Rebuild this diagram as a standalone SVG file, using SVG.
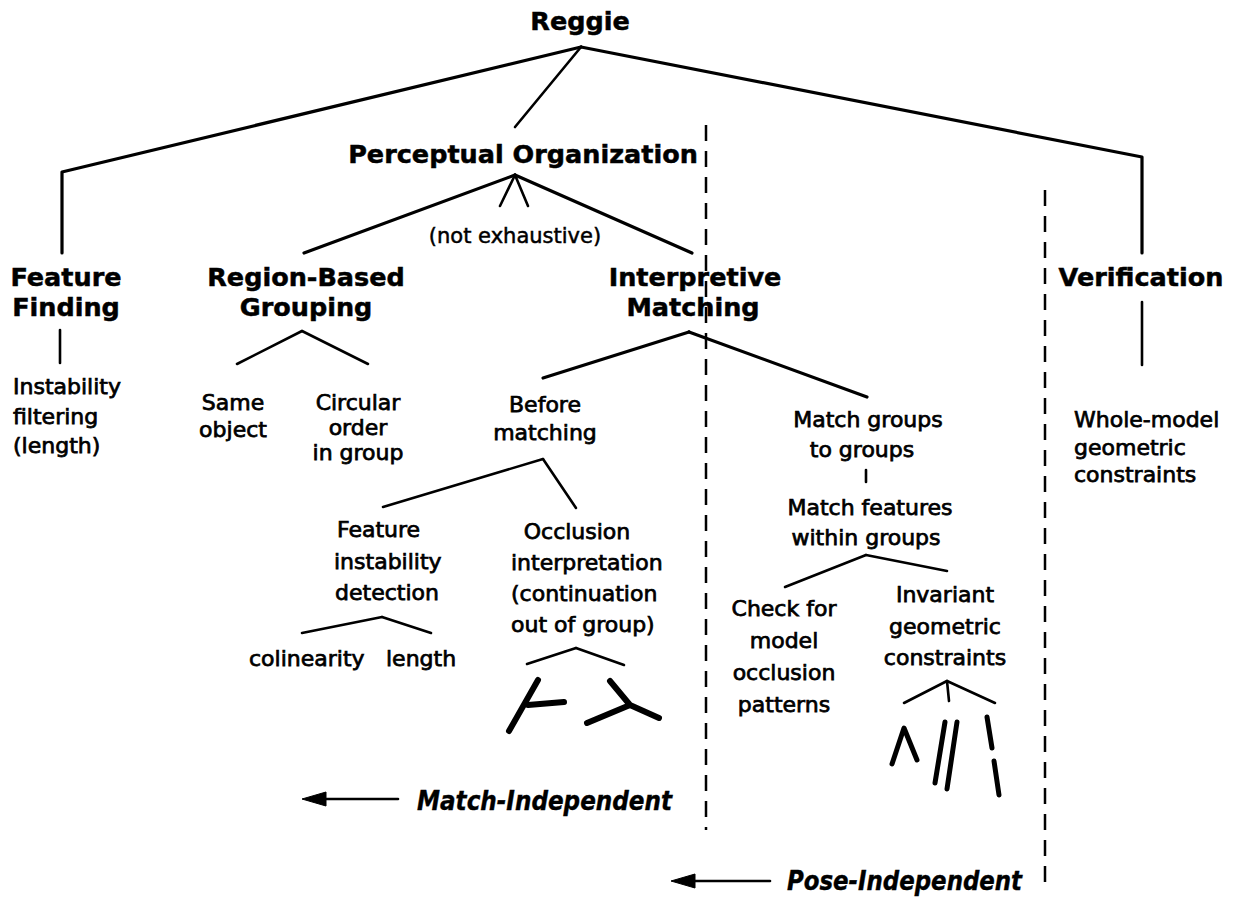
<svg xmlns="http://www.w3.org/2000/svg" width="1235" height="898" viewBox="0 0 1235 898">
<style>
.h{font-family:"DejaVu Sans","Liberation Sans",sans-serif;font-weight:bold;font-size:25.5px;fill:#000;stroke:#000;stroke-width:0.5}
.t{font-family:"DejaVu Sans","Liberation Sans",sans-serif;font-size:22px;fill:#000;stroke:#000;stroke-width:0.75}
.i{font-family:"DejaVu Sans","Liberation Sans",sans-serif;font-weight:bold;font-style:italic;font-size:26px;fill:#000;stroke:#000;stroke-width:0.4}
.c{text-anchor:middle}
.e{fill:none;stroke:#000;stroke-width:3.2;stroke-linecap:round;stroke-linejoin:round}
.s{fill:none;stroke:#000;stroke-width:2.6;stroke-linecap:round;stroke-linejoin:round}
.g{fill:none;stroke:#000;stroke-width:6;stroke-linecap:round;stroke-linejoin:round}
.d{fill:none;stroke:#000;stroke-width:2.5;stroke-dasharray:16 10}
.a{fill:#000;stroke:#000;stroke-width:1;stroke-linejoin:round}
</style>
<rect width="1235" height="898" fill="#fff"/>

<g id="connectors">
<polyline class="e" points="581,47 62,172 62,253"/>
<line class="s" x1="581" y1="47" x2="515" y2="127"/>
<polyline class="e" points="581,47 1142,157 1142,253"/>
<line class="e" x1="515" y1="175" x2="304" y2="253"/>
<line class="e" x1="515" y1="175" x2="692" y2="253"/>
<line class="s" x1="515" y1="175" x2="500" y2="206"/>
<line class="s" x1="515" y1="175" x2="528" y2="206"/>
<line class="s" x1="60" y1="330" x2="60" y2="363"/>
<line class="s" x1="302" y1="331" x2="237" y2="364"/>
<line class="s" x1="302" y1="331" x2="368" y2="364"/>
<line class="e" x1="689" y1="332" x2="543" y2="378"/>
<line class="e" x1="689" y1="332" x2="867" y2="397"/>
<line class="s" x1="543" y1="459" x2="383" y2="507"/>
<line class="s" x1="543" y1="459" x2="576" y2="508"/>
<line class="s" x1="382" y1="617" x2="302" y2="633"/>
<line class="s" x1="382" y1="617" x2="431" y2="633"/>
<line class="s" x1="576" y1="648" x2="527" y2="664"/>
<line class="s" x1="576" y1="648" x2="624" y2="665"/>
<line class="s" x1="866" y1="470" x2="866" y2="482"/>
<line class="s" x1="866" y1="555" x2="785" y2="587"/>
<line class="s" x1="866" y1="555" x2="947" y2="571"/>
<line class="s" x1="947" y1="681" x2="904" y2="703"/>
<line class="s" x1="947" y1="681" x2="995" y2="703"/>
<line class="s" x1="947" y1="681" x2="949" y2="701"/>
<line class="s" x1="1142" y1="302" x2="1142" y2="365"/>
</g>

<g id="boundaries">
<line class="d" x1="706" y1="125" x2="706" y2="830"/>
<line class="d" x1="1045" y1="190" x2="1045" y2="892"/>
</g>

<g id="reggie"><text class="h c" x="580" y="30">Reggie</text></g>
<g id="perceptual-organization">
<text class="h c" x="523" y="163">Perceptual Organization</text>
<text class="t c" x="515" y="243" style="font-size:21px;stroke-width:0.5">(not exhaustive)</text>
</g>
<g id="feature-finding">
<text class="h c" x="66" y="286">Feature</text>
<text class="h c" x="66" y="316">Finding</text>
</g>
<g id="instability-filtering">
<text class="t" x="13" y="394">Instability</text>
<text class="t" x="13" y="424">filtering</text>
<text class="t" x="13" y="453">(length)</text>
</g>
<g id="region-based-grouping">
<text class="h c" x="306" y="286">Region-Based</text>
<text class="h c" x="306" y="316">Grouping</text>
</g>
<g id="same-object">
<text class="t c" x="233" y="410">Same</text>
<text class="t c" x="233" y="437">object</text>
</g>
<g id="circular-order">
<text class="t c" x="358" y="410">Circular</text>
<text class="t c" x="358" y="435">order</text>
<text class="t c" x="358" y="460">in group</text>
</g>
<g id="interpretive-matching">
<text class="h c" x="695" y="286">Interpretive</text>
<text class="h c" x="693" y="316">Matching</text>
</g>
<g id="before-matching">
<text class="t c" x="545" y="412">Before</text>
<text class="t c" x="545" y="440">matching</text>
</g>
<g id="feature-instability-detection">
<text class="t" x="337" y="537">Feature</text>
<text class="t" x="334" y="569">instability</text>
<text class="t" x="335" y="600">detection</text>
</g>
<g id="colinearity"><text class="t" x="249" y="666">colinearity</text></g>
<g id="length"><text class="t" x="386" y="666">length</text></g>
<g id="occlusion-interpretation">
<text class="t c" x="577" y="539">Occlusion</text>
<text class="t" x="511" y="570">interpretation</text>
<text class="t" x="511" y="601">(continuation</text>
<text class="t" x="511" y="632">out of group)</text>
</g>
<g id="occlusion-glyphs">
<path class="g" d="M538,680 L509,731 M528,705 L564,702"/>
<path class="g" d="M610,681 L630,705 L587,723 M630,705 L659,718"/>
</g>
<g id="match-groups">
<text class="t c" x="868" y="427">Match groups</text>
<text class="t c" x="862" y="457">to groups</text>
</g>
<g id="match-features">
<text class="t c" x="870" y="515">Match features</text>
<text class="t c" x="866" y="545">within groups</text>
</g>
<g id="check-occlusion">
<text class="t c" x="784" y="616">Check for</text>
<text class="t c" x="784" y="648">model</text>
<text class="t c" x="784" y="680">occlusion</text>
<text class="t c" x="784" y="712">patterns</text>
</g>
<g id="invariant-constraints">
<text class="t c" x="945" y="602">Invariant</text>
<text class="t c" x="945" y="634">geometric</text>
<text class="t c" x="945" y="665">constraints</text>
</g>
<g id="invariant-glyphs">
<path class="g" style="stroke-width:5" d="M892,764 L904,728 L917,760"/>
<path class="g" style="stroke-width:5" d="M945,722 L935,783 M957,722 L947,789"/>
<path class="g" style="stroke-width:5" d="M987,717 L992,748 M994,761 L999,795"/>
</g>
<g id="verification"><text class="h c" x="1141" y="286">Verification</text></g>
<g id="whole-model">
<text class="t" x="1074" y="427">Whole-model</text>
<text class="t" x="1074" y="455">geometric</text>
<text class="t" x="1074" y="482">constraints</text>
</g>
<g id="match-independent">
<line class="s" x1="398" y1="799" x2="322" y2="799"/>
<polygon class="a" points="302,799 326,792 326,806"/>
<text class="i" x="417" y="810" textLength="255" lengthAdjust="spacingAndGlyphs">Match-Independent</text>
</g>
<g id="pose-independent">
<line class="s" x1="770" y1="881" x2="691" y2="881"/>
<polygon class="a" points="671,881 695,874 695,888"/>
<text class="i" x="787" y="890" textLength="235" lengthAdjust="spacingAndGlyphs">Pose-Independent</text>
</g>
</svg>
